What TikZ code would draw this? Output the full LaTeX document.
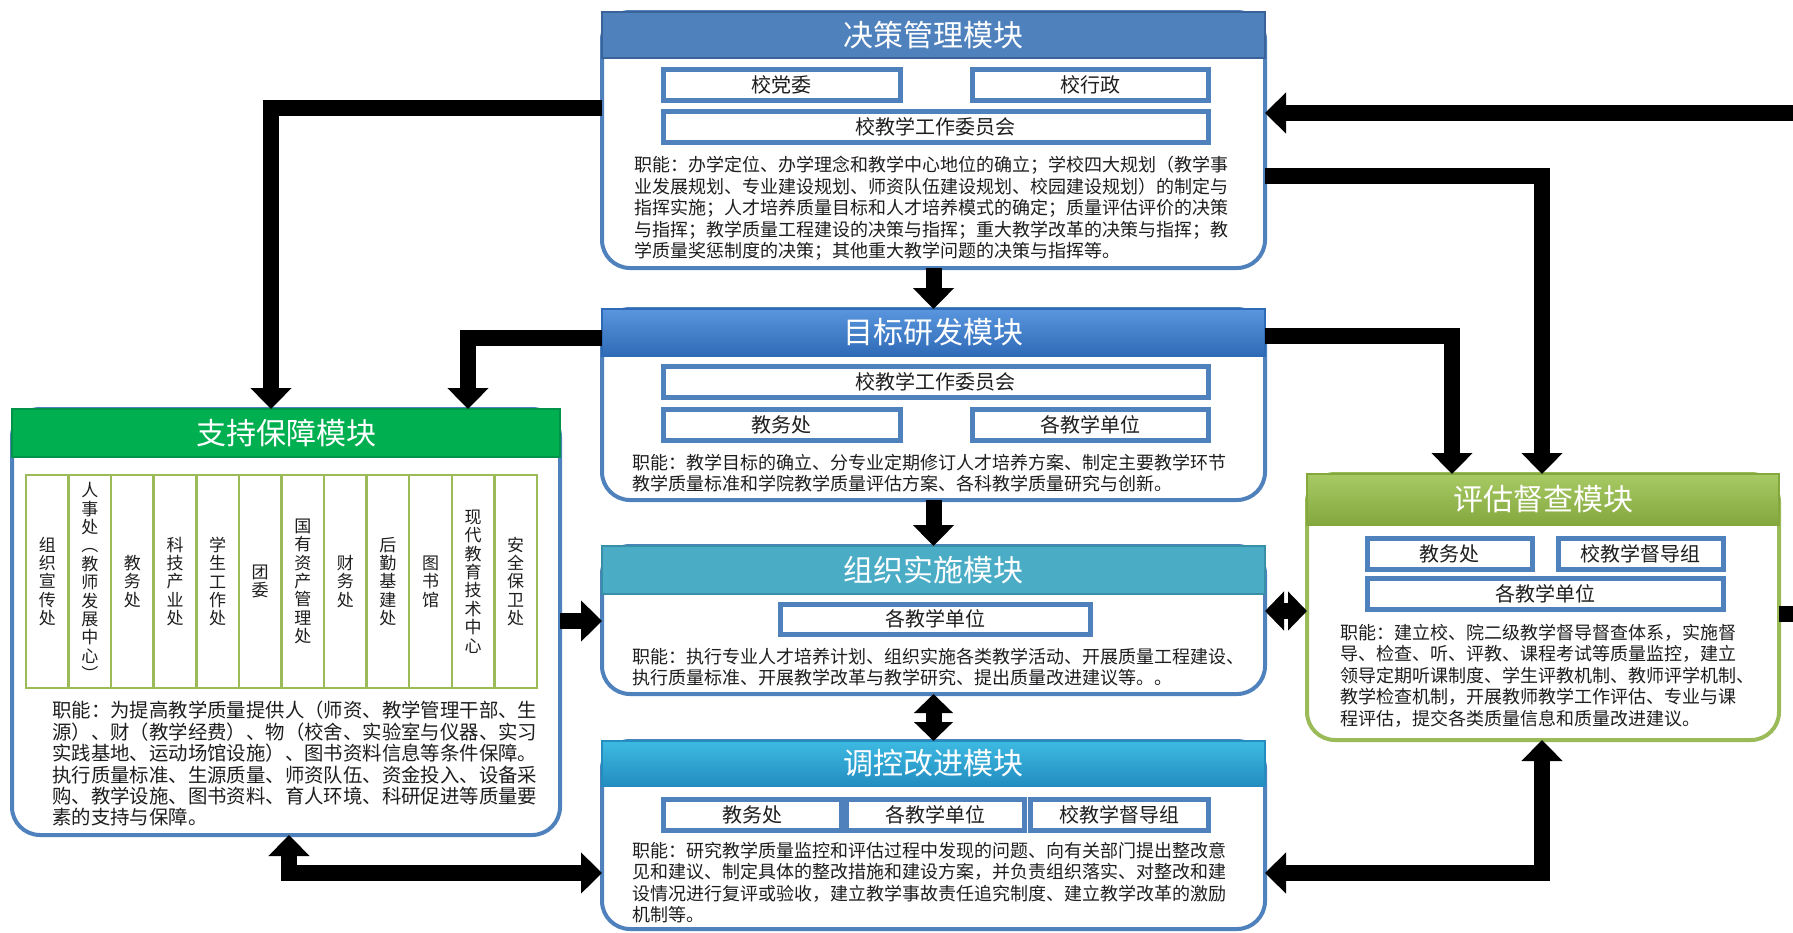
\documentclass[tikz,border=0pt]{standalone}
\usepackage{fontspec}
\setmainfont{Noto Sans CJK SC}
\usetikzlibrary{arrows.meta}
\definecolor{mblue}{HTML}{4F81BD}
\definecolor{mbluedk}{HTML}{3A6499}
\definecolor{hblueT}{HTML}{5A96DE}
\definecolor{hblueB}{HTML}{2E6AB6}
\definecolor{haqua}{HTML}{4BACC6}
\definecolor{haquadk}{HTML}{3A8FA8}
\definecolor{hcyanT}{HTML}{3DBAE2}
\definecolor{hcyanB}{HTML}{238DC0}
\definecolor{hgreen}{HTML}{00B050}
\definecolor{hgreendk}{HTML}{00934A}
\definecolor{olive}{HTML}{9BBB59}
\definecolor{oliveT}{HTML}{A8CA64}
\definecolor{oliveB}{HTML}{84A73E}
\definecolor{txt}{HTML}{1E1E1E}
\begin{document}
\begin{tikzpicture}[x=1pt,y=-1pt,
  modbody/.style={draw=mblue, line width=4pt, fill=white, rounded corners=28pt, inner sep=0pt, outer sep=0pt, anchor=north west},
  modhead/.style={line width=1.5pt, inner sep=0pt, outer sep=0pt, anchor=north west, text=white, font=\fontsize{30}{34}\selectfont},
  unitbox/.style={draw=mblue, line width=4.5pt, fill=white, inner sep=0pt, anchor=north west, minimum height=31pt, text=txt, font=\fontsize{20}{24}\selectfont},
  dutytext/.style={anchor=north west, inner sep=0pt, align=left, text=txt, font=\fontsize{18}{21.5}\selectfont},
  deptcol/.style={draw=olive, line width=2.5pt, minimum width=42.58pt, minimum height=213pt, inner sep=0pt, align=center, text=txt, font=\fontsize{17}{18.4}\selectfont},
  flowline/.style={line width=16pt, draw=black},
  arr/.style={flowline, -{Triangle[width=40pt,length=21pt]}},
  arrb/.style={flowline, {Triangle[width=40pt,length=21pt]}-{Triangle[width=40pt,length=21pt]}},
  arrbs/.style={flowline, {Triangle[width=38pt,length=19pt]}-{Triangle[width=38pt,length=19pt]}},
]
\useasboundingbox (0,0) rectangle (1793,932);

% ---------- 决策管理模块 ----------
\node[modbody, minimum width=663pt, minimum height=256pt] (jc) at (602,12) {};
\node[modhead, fill=mblue, draw=mbluedk, minimum width=663pt, minimum height=46pt] (jch) at (602,12) {决策管理模块};
\node[unitbox, minimum width=237pt] (jc1) at (661,67) {校党委};
\node[unitbox, minimum width=236pt] (jc2) at (970,67) {校行政};
\node[unitbox, minimum width=545pt] (jc3) at (661,109) {校教学工作委员会};
\node[dutytext] (jct) at (634,156) {职能：办学定位、办学理念和教学中心地位的确立；学校四大规划（教学事\\业发展规划、专业建设规划、师资队伍建设规划、校园建设规划）的制定与\\指挥实施；人才培养质量目标和人才培养模式的确定；质量评估评价的决策\\与指挥；教学质量工程建设的决策与指挥；重大教学改革的决策与指挥；教\\学质量奖惩制度的决策；其他重大教学问题的决策与指挥等。};

% ---------- 目标研发模块 ----------
\node[modbody, minimum width=663pt, minimum height=191pt] (mb) at (602,309) {};
\node[modhead, top color=hblueT, bottom color=hblueB, draw=hblueB, minimum width=663pt, minimum height=47pt] (mbh) at (602,309) {目标研发模块};
\node[unitbox, minimum width=545pt] (mb1) at (661,364) {校教学工作委员会};
\node[unitbox, minimum width=237pt] (mb2) at (661,407) {教务处};
\node[unitbox, minimum width=236pt] (mb3) at (970,407) {各教学单位};
\node[dutytext] (mbt) at (632,454) {职能：教学目标的确立、分专业定期修订人才培养方案、制定主要教学环节\\教学质量标准和学院教学质量评估方案、各科教学质量研究与创新。};

% ---------- 组织实施模块 ----------
\node[modbody, minimum width=663pt, minimum height=148pt] (zz) at (602,546) {};
\node[modhead, fill=haqua, draw=haquadk, minimum width=663pt, minimum height=48pt] (zzh) at (602,546) {组织实施模块};
\node[unitbox, minimum width=310pt, minimum height=30pt] (zz1) at (778,602) {各教学单位};
\node[dutytext] (zzt) at (632,648) {职能：执行专业人才培养计划、组织实施各类教学活动、开展质量工程建设、\\执行质量标准、开展教学改革与教学研究、提出质量改进建议等。。};

% ---------- 调控改进模块 ----------
\node[modbody, minimum width=663pt, minimum height=188pt] (tk) at (602,741) {};
\node[modhead, top color=hcyanT, bottom color=hcyanB, draw=hcyanB, minimum width=663pt, minimum height=45pt] (tkh) at (602,741) {调控改进模块};
\node[unitbox, minimum width=178pt] (tk1) at (661,797) {教务处};
\node[unitbox, minimum width=178pt] (tk2) at (844,797) {各教学单位};
\node[unitbox, minimum width=178pt] (tk3) at (1028,797) {校教学督导组};
\node[dutytext] (tkt) at (632,842) {职能：研究教学质量监控和评估过程中发现的问题、向有关部门提出整改意\\见和建议、制定具体的整改措施和建设方案，并负责组织落实、对整改和建\\设情况进行复评或验收，建立教学事故责任追究制度、建立教学改革的激励\\机制等。};

% ---------- 支持保障模块 ----------
\node[modbody, minimum width=548pt, minimum height=426pt] (zc) at (12,409) {};
\node[modhead, fill=hgreen, draw=hgreendk, minimum width=548pt, minimum height=48pt] (zch) at (12,409) {支持保障模块};
\foreach \lab [count=\i] in {组\\织\\宣\\传\\处, 人\\事\\处\\︵\\教\\师\\发\\展\\中\\心\\︶, 教\\务\\处, 科\\技\\产\\业\\处, 学\\生\\工\\作\\处, 团\\委, 国\\有\\资\\产\\管\\理\\处, 财\\务\\处, 后\\勤\\基\\建\\处, 图\\书\\馆, 现\\代\\教\\育\\技\\术\\中\\心, 安\\全\\保\\卫\\处}
  \node[deptcol] (dep\i) at ({26+(\i-0.5)*42.58}, 581.5) {\lab};
\node[dutytext, font=\fontsize{19.4}{21.4}\selectfont] (zct) at (52,701) {职能：为提高教学质量提供人（师资、教学管理干部、生\\源）、财（教学经费）、物（校舍、实验室与仪器、实习\\实践基地、运动场馆设施）、图书资料信息等条件保障。\\执行质量标准、生源质量、师资队伍、资金投入、设备采\\购、教学设施、图书资料、育人环境、科研促进等质量要\\素的支持与保障。};

% ---------- 评估督查模块 ----------
\node[modbody, draw=olive, minimum width=472pt, minimum height=266pt] (pg) at (1307,474) {};
\node[modhead, top color=oliveT, bottom color=oliveB, draw=oliveB, minimum width=472pt, minimum height=51pt] (pgh) at (1307,474) {评估督查模块};
\node[unitbox, minimum width=165pt] (pg1) at (1365,536) {教务处};
\node[unitbox, minimum width=165pt] (pg2) at (1556,536) {校教学督导组};
\node[unitbox, minimum width=356pt] (pg3) at (1365,576) {各教学单位};
\node[dutytext] (pgt) at (1340,624) {职能：建立校、院二级教学督导督查体系，实施督\\导、检查、听、评教、课程考试等质量监控，建立\\领导定期听课制度、学生评教机制、教师评学机制、\\教学检查机制，开展教师教学工作评估、专业与课\\程评估，提交各类质量信息和质量改进建议。};

% ---------- connectors ----------
\coordinate (b1) at (271,108);
\coordinate (b2) at (468,338);
\coordinate (b3) at (1452,336);
\coordinate (b4) at (1542,176);
\coordinate (e5) at (1793,113);
\coordinate (b9) at (0,621);
\coordinate (b10) at (0,611);
\coordinate (e11) at (1793,614);
\coordinate (b12) at (289,873);
\coordinate (b13) at (1542,873);

\draw[arr] (jc.west |- b1) -| (b1 |- zc.north);
\draw[arr] (mb.west |- b2) -| (b2 |- zc.north);
\draw[arr] (mb.east |- b3) -| (b3 |- pg.north);
\draw[arr] (jc.east |- b4) -| (b4 |- pg.north);
\draw[arr] (e5) -- (jc.east |- e5);
\draw[arr] (jc.south) -- (mb.north);
\draw[arr] (mb.south) -- (zz.north);
\draw[arrbs] (zz.south) -- (tk.north);
\draw[arr] (zc.east |- b9) -- (zz.west |- b9);
\draw[arrbs] (zz.east |- b10) -- (pg.west |- b10);
\draw[flowline] (pg.east |- e11) -- (e11);
\draw[arrb] (b12 |- zc.south) |- (tk.west |- b12);
\draw[arrb] (tk.east |- b13) -| (b13 |- pg.south);
\end{tikzpicture}
\end{document}
